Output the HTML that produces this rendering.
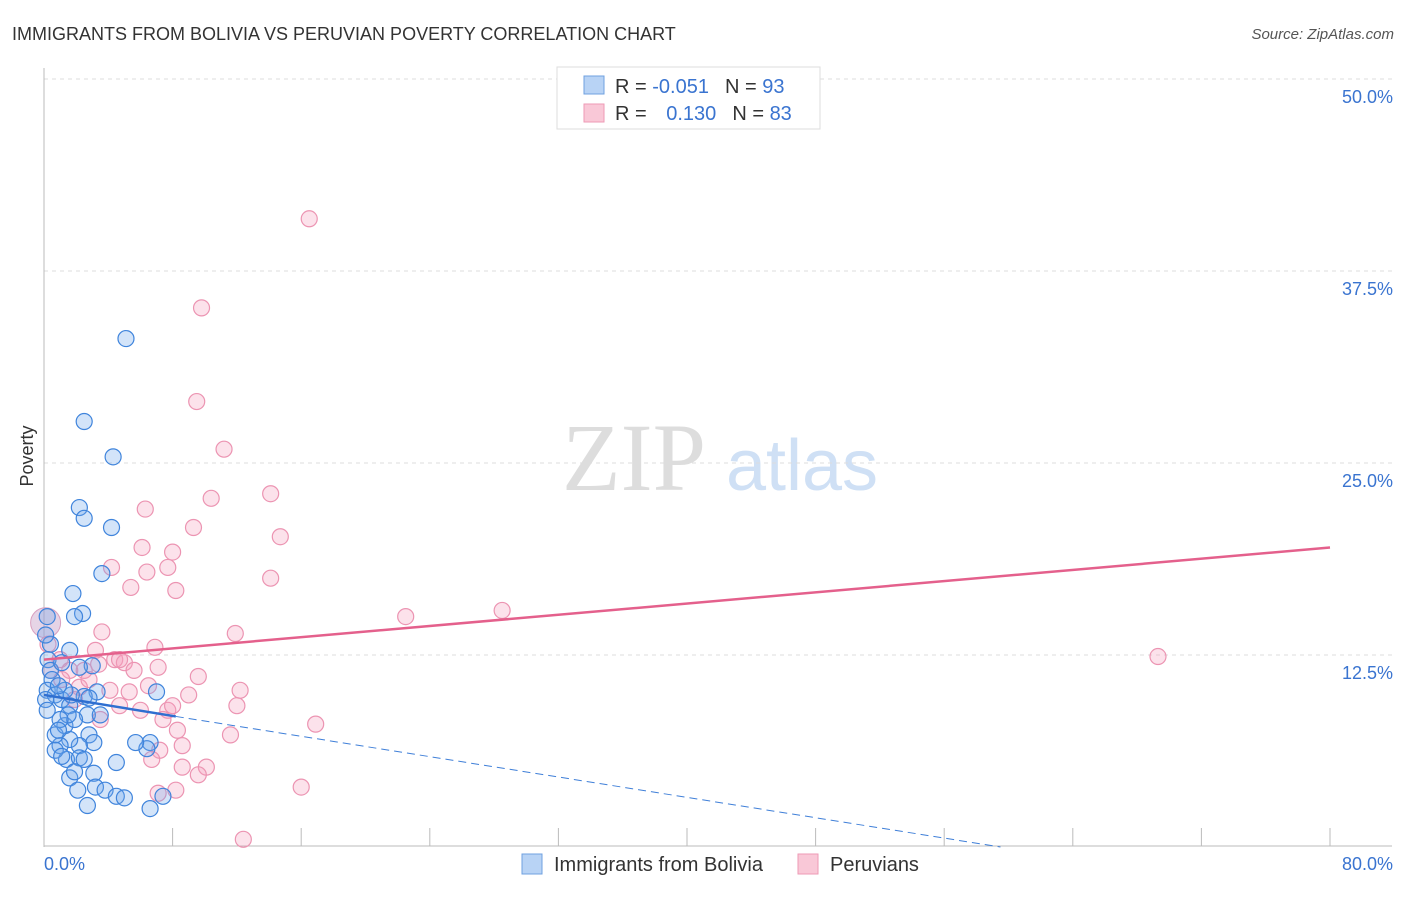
<!DOCTYPE html>
<html><head><meta charset="utf-8"><style>
body{margin:0;background:#fff;font-family:"Liberation Sans",sans-serif;}
</style></head><body>
<svg id="chart" width="1406" height="892" xmlns="http://www.w3.org/2000/svg" font-family="Liberation Sans, sans-serif">
<text x="12" y="40" font-size="18" fill="#333">IMMIGRANTS FROM BOLIVIA VS PERUVIAN POVERTY CORRELATION CHART</text>
<text x="1394" y="39" font-size="15" fill="#555" font-style="italic" text-anchor="end">Source: ZipAtlas.com</text>
<g>
<text x="634" y="490" font-size="96" fill="#ddd" style="font-family:'Liberation Serif',serif" text-anchor="middle">ZIP</text>
<text x="802" y="490" font-size="72" fill="#cfe0f5" text-anchor="middle">atlas</text>
</g>
<g id="grid"></g>
<g id="axes"></g>
<g id="marks"></g>
<text transform="translate(33,456) rotate(-90)" font-size="18" fill="#333" text-anchor="middle">Poverty</text>
<g>
<rect x="557" y="67" width="263" height="62" fill="#fff" stroke="#ddd"/>
<rect x="584" y="76" width="20" height="18" fill="#b8d3f5" stroke="#6fa0e0"/>
<rect x="584" y="104" width="20" height="18" fill="#f9c8d7" stroke="#ee9ab5"/>
<text x="615" y="93" font-size="20" fill="#333">R = <tspan fill="#3a74d0">-0.051</tspan><tspan dx="16">N = </tspan><tspan fill="#3a74d0">93</tspan></text>
<text x="615" y="120" font-size="20" fill="#333">R = <tspan dx="14" fill="#3a74d0">0.130</tspan><tspan dx="16">N = </tspan><tspan fill="#3a74d0">83</tspan></text>
</g>
<g>
<rect x="522" y="854" width="20" height="20" fill="#b8d3f5" stroke="#6fa0e0"/>
<text x="554" y="871" font-size="20" fill="#333">Immigrants from Bolivia</text>
<rect x="798" y="854" width="20" height="20" fill="#f9c8d7" stroke="#ee9ab5"/>
<text x="830" y="871" font-size="20" fill="#333">Peruvians</text>
</g>
</svg>
<script>
const yTicks=[12.5,25,37.5,50];
const yTickLabels=["12.5%","25.0%","37.5%","50.0%"];
const xTicks=[8,16,24,32,40,48,56,64,72,80];
const blueX=[5.1,2.5,4.3,2.2,2.5,4.2,3.6,1.8,2.4,1.9,1.6,0.2,0.4,0.25,0.4,0.5,0.2,0.7,1.1,1.6,3.0,3.3,2.5,7.0,6.6,6.4,5.7,4.5,2.7,2.8,3.1,2.2,1.6,1.0,0.7,1.3,1.9,1.5,1.0,0.9,1.4,2.2,2.5,3.1,1.6,2.1,2.7,3.2,3.8,4.5,5.0,6.6,7.4,2.8,1.7,1.3,0.9,1.1,0.1,0.1,0.2,2.2,3.5,0.7,1.1,1.9];
const blueY=[33.1,27.7,25.4,22.1,21.4,20.8,17.8,16.5,15.2,15.0,12.8,15.0,13.2,12.2,11.5,10.9,10.2,9.9,9.6,9.2,11.8,10.1,9.8,10.1,6.8,6.4,6.8,5.5,8.6,7.3,6.8,6.6,7.0,6.6,7.3,7.9,8.3,8.6,8.3,7.6,5.7,5.8,5.7,4.8,4.5,3.7,2.7,3.9,3.7,3.3,3.2,2.5,3.3,9.7,9.9,10.2,10.5,12.0,13.8,9.6,8.9,11.7,8.6,6.3,5.9,4.9];
const pinkX=[16.5,9.8,9.5,11.2,10.4,14.1,6.3,9.3,14.7,6.1,8.0,4.2,7.7,6.4,5.4,8.2,14.1,22.5,28.5,69.3,11.9,3.6,6.9,0.25,3.2,4.4,5.0,5.6,7.1,9.6,12.2,9.0,6.5,5.3,4.1,2.2,3.5,4.7,6.0,7.7,8.0,8.3,8.6,7.4,7.2,6.7,8.6,10.1,9.6,7.1,8.2,11.6,12.0,16.9,16.0,12.4,1.0,1.6,2.5,1.1,2.8,1.9,0.4,3.4,4.7];
const pinkY=[40.9,35.1,29.0,25.9,22.7,23.0,22.0,20.8,20.2,19.5,19.2,18.2,18.2,17.9,16.9,16.7,17.5,15.0,15.4,12.4,13.9,14.0,13.0,13.2,12.8,12.2,12.0,11.5,11.7,11.1,10.2,9.9,10.5,10.1,10.2,10.4,8.3,9.2,8.9,8.9,9.2,7.6,6.6,8.3,6.3,5.7,5.2,5.2,4.7,3.5,3.7,7.3,9.2,8.0,3.9,0.5,12.2,11.5,11.5,10.9,10.9,9.6,11.5,11.9,12.2];
const pinkTrend=[0,12.2,80,19.5];
const blueTrend=[0,9.9,8.2,8.5,59.5,0];
const X0=44,X1=1330,Y0=847,PY=192/12.5;
const sx=v=>X0+(X1-X0)*v/80, sy=v=>Y0-v*PY;
const NS="http://www.w3.org/2000/svg";
function mk(parent,tag,attrs){const e=document.createElementNS(NS,tag);for(const k in attrs)e.setAttribute(k,attrs[k]);document.getElementById(parent).appendChild(e);return e;}
yTicks.forEach((t,i)=>{
 const g=mk('grid','line',{x1:44,x2:1392,y1:sy(t),y2:sy(t),stroke:'#ddd','stroke-dasharray':'4,4'});
 
 
 const l=mk('axes','text',{x:1393,y:sy(t)+24,'font-size':18,fill:'#3a74d0','text-anchor':'end'});
 l.textContent=yTickLabels[i];
 
 
});
const topGrid=mk('grid','line',{x1:44,x2:1392,y1:79,y2:79,stroke:'#ddd','stroke-dasharray':'4,4'});


const ya=mk('axes','line',{x1:44,x2:44,y1:68,y2:847,stroke:'#bbb'});


const xa=mk('axes','line',{x1:44,x2:1392,y1:846,y2:846,stroke:'#bbb'});


xTicks.forEach(t=>{const k=mk('axes','line',{x1:sx(t),x2:sx(t),y1:828,y2:846,stroke:'#bbb'});
 
 });
const xl0=mk('axes','text',{x:44,y:870,'font-size':18,fill:'#3a74d0'});xl0.textContent='0.0%';


const xl1=mk('axes','text',{x:1393,y:870,'font-size':18,fill:'#3a74d0','text-anchor':'end'});xl1.textContent='80.0%';


const big=mk('marks','circle',{cx:sx(0.1),cy:sy(14.6),r:15,fill:'rgba(200,160,200,0.45)',stroke:'#d9a0c0'});


pinkX.forEach((x,i)=>{const c=mk('marks','circle',{cx:sx(x),cy:sy(pinkY[i]),r:8,fill:'rgba(244,160,190,0.3)',stroke:'#ec94b2','stroke-width':1.2});
 
 });
blueX.forEach((x,i)=>{const c=mk('marks','circle',{cx:sx(x),cy:sy(blueY[i]),r:8,fill:'rgba(110,165,235,0.3)',stroke:'#3f84dc','stroke-width':1.2});
 
 });
const pt=mk('marks','line',{x1:sx(pinkTrend[0]),y1:sy(pinkTrend[1]),x2:sx(pinkTrend[2]),y2:sy(pinkTrend[3]),stroke:'#e4608c','stroke-width':2.5});


const bt=mk('marks','line',{x1:sx(blueTrend[0]),y1:sy(blueTrend[1]),x2:sx(blueTrend[2]),y2:sy(blueTrend[3]),stroke:'#2f6fd0','stroke-width':2.5});


const bd=mk('marks','line',{x1:sx(blueTrend[2]),y1:sy(blueTrend[3]),x2:sx(blueTrend[4]),y2:sy(blueTrend[5]),stroke:'#3f7fd8','stroke-width':1,'stroke-dasharray':'8,5'});


</script>
</body></html>
